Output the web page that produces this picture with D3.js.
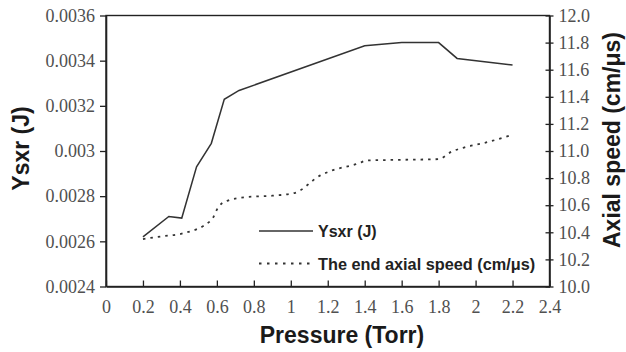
<!DOCTYPE html>
<html>
<head>
<meta charset="utf-8">
<script src="https://cdn.jsdelivr.net/npm/d3@7"></script>
<style>
  body { margin: 0; background: #fff; }
  svg { display: block; }
</style>
</head>
<body>
<svg id="chart" width="626" height="352"></svg>
<script>
// ---- Data ----
const pressureYsxr = [0.2, 0.34, 0.41, 0.49, 0.57, 0.64, 0.72, 1.4, 1.6, 1.8, 1.9, 2.2];
const ysxr = [0.00262, 0.00271, 0.002703, 0.00293, 0.003034, 0.003229, 0.003268, 0.003466, 0.00348, 0.00348, 0.00341, 0.003381];

const pressureSpeed = [0.2, 0.3, 0.41, 0.57, 0.61, 0.65, 0.76, 0.9, 1.02, 1.16, 1.21, 1.37, 1.41, 1.6, 1.8, 1.87, 1.95, 2.04, 2.2];
const axialSpeed = [10.35, 10.37, 10.39, 10.49, 10.59, 10.63, 10.66, 10.67, 10.69, 10.82, 10.85, 10.91, 10.93, 10.935, 10.94, 10.995, 11.03, 11.057, 11.12];

const xTicks = [0, 0.2, 0.4, 0.6, 0.8, 1, 1.2, 1.4, 1.6, 1.8, 2, 2.2, 2.4];
const xTickLabels = ["0", "0.2", "0.4", "0.6", "0.8", "1", "1.2", "1.4", "1.6", "1.8", "2", "2.2", "2.4"];
const yLeftTicks = [0.0024, 0.0026, 0.0028, 0.003, 0.0032, 0.0034, 0.0036];
const yLeftTickLabels = ["0.0024", "0.0026", "0.0028", "0.003", "0.0032", "0.0034", "0.0036"];
const yRightTicks = [10.0, 10.2, 10.4, 10.6, 10.8, 11.0, 11.2, 11.4, 11.6, 11.8, 12.0];
const yRightTickLabels = ["10.0", "10.2", "10.4", "10.6", "10.8", "11.0", "11.2", "11.4", "11.6", "11.8", "12.0"];

const seriesNames = ["Ysxr (J)", "The end axial speed (cm/\u03bcs)"];
const xTitle = "Pressure (Torr)";
const yLeftTitle = "Ysxr (J)";
const yRightTitle = "Axial speed (cm/\u03bcs)";

// ---- Layout ----
const L = 106, R = 549.5, T = 15.5, B = 286.5;
const svg = d3.select("#chart").attr("font-family", '"Liberation Serif"');

const x = d3.scaleLinear().domain([0, 2.4]).range([L, R]);
const yL = d3.scaleLinear().domain([0.0024, 0.0036]).range([B, T]);
const yR = d3.scaleLinear().domain([10, 12]).range([B, T]);

const axisColor = "#222";
const sansFont = '"Liberation Sans"';
const serifFont = '"Liberation Serif"';
const tickColor = "#505050";

// frame
svg.append("rect").attr("x", L).attr("y", T).attr("width", R - L).attr("height", B - T)
  .attr("fill", "none").attr("stroke", axisColor).attr("stroke-width", 1.4);

function styleAxis(g) {
  g.attr("font-family", serifFont).attr("font-size", 18);
  g.select(".domain").attr("stroke", axisColor).attr("stroke-width", 1.6);
  g.selectAll(".tick line").attr("stroke", axisColor).attr("stroke-width", 1.3);
  g.selectAll(".tick text")
    .attr("font-family", serifFont)
    .style("font-family", serifFont)
    .style("font-size", "18px")
    .attr("fill", tickColor);
  g.selectAll(".tick").attr("class", "tk");
}

// x axis (ticks inward)
const gx = svg.append("g").attr("transform", `translate(0,${B})`)
  .call(d3.axisBottom(x).tickValues(xTicks).tickSizeInner(-6).tickSizeOuter(0)
    .tickFormat((d, i) => xTickLabels[i]).tickPadding(14));
styleAxis(gx);

// left axis (ticks outward)
const gl = svg.append("g").attr("transform", `translate(${L},0)`)
  .call(d3.axisLeft(yL).tickValues(yLeftTicks).tickSizeInner(6).tickSizeOuter(0)
    .tickFormat((d, i) => yLeftTickLabels[i]).tickPadding(5));
styleAxis(gl);

// right axis (ticks crossing)
const gr = svg.append("g").attr("transform", `translate(${R},0)`)
  .call(d3.axisRight(yR).tickValues(yRightTicks).tickSizeInner(4).tickSizeOuter(0)
    .tickFormat((d, i) => yRightTickLabels[i]).tickPadding(5));
styleAxis(gr);
gr.selectAll(".tk line").attr("x1", -4);

// lines
const solid = d3.line().x((d, i) => x(pressureYsxr[i])).y(d => yL(d));
svg.append("path").datum(ysxr).attr("d", solid)
  .attr("fill", "none").attr("stroke", "#333").attr("stroke-width", 1.5);

const dotted = d3.line().x((d, i) => x(pressureSpeed[i])).y(d => yR(d)).curve(d3.curveMonotoneX);
svg.append("path").datum(axialSpeed).attr("d", dotted)
  .attr("fill", "none").attr("stroke", "#333").attr("stroke-width", 1.8)
  .attr("stroke-dasharray", "2.5,5");

// legend
const lg = svg.append("g");
lg.append("line").attr("x1", 259).attr("x2", 313).attr("y1", 231).attr("y2", 231)
  .attr("stroke", "#333").attr("stroke-width", 1.5);
lg.append("line").attr("x1", 259).attr("x2", 313).attr("y1", 263.5).attr("y2", 263.5)
  .attr("stroke", "#333").attr("stroke-width", 1.8).attr("stroke-dasharray", "2.5,5.5");
lg.append("text").attr("x", 318).attr("y", 237).text(seriesNames[0])
  .style("font-family", sansFont).style("font-weight", "bold").style("font-size", "16px").attr("fill", "#222");
lg.append("text").attr("x", 318).attr("y", 269.5).text(seriesNames[1])
  .style("font-family", sansFont).style("font-weight", "bold").style("font-size", "16.3px").attr("fill", "#222");

// titles
function title(sel) {
  return sel.style("font-family", sansFont).style("font-weight", "bold").style("font-size", "23px")
    .attr("fill", "#1a1a1a").attr("text-anchor", "middle");
}
title(svg.append("text").attr("x", 342).attr("y", 343).text(xTitle));
title(svg.append("text").attr("transform", "translate(29,148.5) rotate(-90)").text(yLeftTitle));
title(svg.append("text").attr("transform", "translate(620,140) rotate(-90)").text(yRightTitle));
</script>
</body>
</html>
